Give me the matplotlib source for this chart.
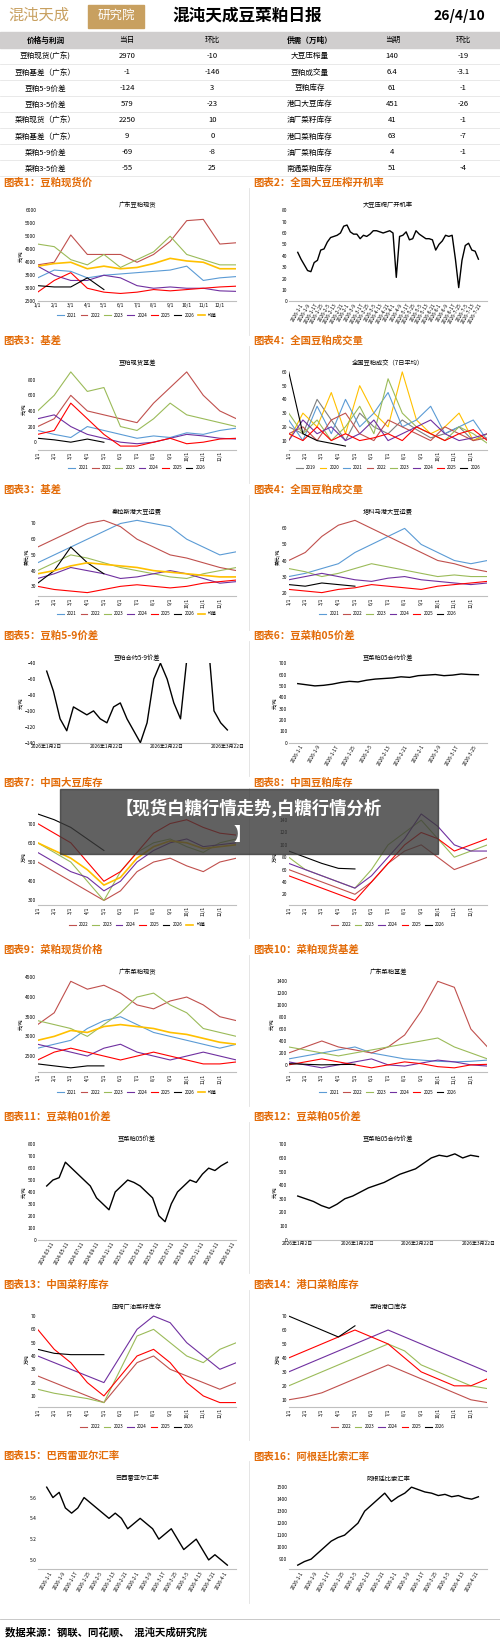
import matplotlib.pyplot as plt
import matplotlib.patches as mpatches

plt.rcParams['font.family'] = ['Noto Sans CJK SC', 'DejaVu Sans']

W, H = 500, 1641
# layout coordinates below are measured on a 478-wide copy of the reference
SW, SH = 478, 1641 * 478 / 500

# ---- table data ----
tbl_head = ['价格与利润', '当日', '环比', '供需（万吨）', '当期', '环比']
left_names = ['豆粕现货(广东)', '豆粕基差（广东）', '豆粕5-9价差', '豆粕3-5价差',
              '菜粕现货（广东）', '菜粕基差（广东）', '菜粕5-9价差', '菜粕3-5价差']
left_today = ['2970', '-1', '-124', '579', '2250', '9', '-69', '-55']
left_chg = ['-10', '-146', '3', '-23', '10', '0', '-8', '25']
right_names = ['大豆压榨量', '豆粕成交量', '豆粕库存', '港口大豆库存',
               '油厂菜籽库存', '港口菜粕库存', '油厂菜粕库存', '南通菜粕库存']
right_now = ['140', '6.4', '61', '451', '41', '63', '4', '51']
right_chg = ['-19', '-3.1', '-1', '-26', '-1', '-7', '-1', '-4']

years = ['2021', '2022', '2023', '2024', '2025', '2026', '均值']
months = ['1/1', '2/1', '3/1', '4/1', '5/1', '6/1', '7/1', '8/1', '9/1', '10/1', '11/1', '12/1']

# chart 1: 广东豆粕现货
c1_2021 = [3400, 3700, 3650, 3400, 3500, 3550, 3600, 3650, 3700, 3850, 3300, 3400, 3450]
c1_2022 = [3900, 4000, 5050, 4300, 4300, 4300, 4000, 4300, 4800, 5600, 5650, 4700, 4750]
c1_2023 = [4700, 4600, 4100, 3900, 4300, 3800, 4100, 4400, 5000, 4300, 4100, 3900, 3900]
c1_2024 = [3850, 3500, 3300, 3300, 3500, 3400, 3100, 3000, 3050, 3000, 3000, 2900, 2880]
c1_2025 = [2850, 3300, 3600, 3000, 2850, 2800, 2850, 2950, 2900, 2950, 3000, 3050, 3080]
c1_2026 = [3100, 3050, 3050, 3400, 2950]
c1_mean = [3850, 3950, 4000, 3750, 3850, 3750, 3800, 3950, 4150, 4050, 4000, 3750, 3750]

# chart 2: 大豆压榨厂开机率
c2_rate = [43, 37, 32, 27, 26, 34, 36, 45, 46, 52, 56, 57, 58, 60, 66, 67, 61, 59, 59, 55, 58, 57,
           59, 62, 62, 61, 60, 61, 62, 60, 21, 57, 58, 61, 54, 55, 62, 59, 57, 55, 55, 54, 45, 50,
           53, 58, 57, 58, 37, 12, 36, 49, 51, 45, 44, 37]

# chart 3: 豆粕现货基差
c3_2021 = [150, 100, 60, 200, 150, 100, 50, 80, 60, 120, 100, 150, 180]
c3_2022 = [200, 300, 600, 400, 350, 300, 250, 500, 700, 900, 600, 400, 300]
c3_2023 = [400, 600, 900, 650, 700, 200, 150, 300, 500, 350, 300, 250, 200]
c3_2024 = [300, 350, 200, 100, 50, 0, -20, 0, 50, 100, 80, 50, 40]
c3_2025 = [100, 150, 500, 300, 100, -50, -50, 0, 50, -20, 0, 40, 50]
c3_2026 = [50, 30, 0, 40, -1]

# chart 4: 全国豆粕成交（7日平均）
c4_2019 = [20, 15, 40, 25, 10, 30, 20, 15, 25, 18, 12, 15, 20, 10, 15]
c4_2020 = [10, 30, 20, 45, 15, 50, 30, 20, 60, 25, 15, 20, 30, 10, 15]
c4_2021 = [25, 10, 35, 15, 40, 20, 30, 45, 20, 25, 35, 15, 20, 25, 10]
c4_2022 = [15, 20, 10, 25, 30, 15, 10, 25, 20, 15, 10, 20, 15, 10, 12]
c4_2023 = [30, 15, 25, 10, 20, 35, 15, 55, 30, 20, 15, 10, 20, 15, 8]
c4_2024 = [10, 25, 15, 20, 10, 15, 25, 10, 15, 20, 25, 15, 10, 12, 15]
c4_2025 = [15, 10, 20, 10, 15, 10, 12, 15, 10, 20, 15, 10, 15, 18, 10]
c4_2026 = [60, 15, 10, 8, 6]

# chart 5: 秦拉斯港大豆运费
c5_2021 = [45, 50, 55, 60, 65, 70, 72, 70, 68, 60, 55, 50, 52]
c5_2022 = [55, 60, 65, 70, 72, 68, 60, 55, 50, 48, 45, 42, 40]
c5_2023 = [40, 45, 50, 48, 45, 42, 40, 38, 36, 35, 38, 40, 42]
c5_2024 = [35, 38, 42, 40, 38, 35, 36, 38, 40, 38, 35, 32, 33]
c5_2025 = [30, 28, 27, 26, 28, 30, 31, 30, 29, 30, 32, 33, 34]
c5_2026 = [32, 40, 55, 45, 38]
c5_mean = [38, 40, 43, 45, 44, 43, 42, 40, 39, 38, 37, 36, 36]

# chart 6: 塔科马港大豆运费
c6_2021 = [30, 32, 35, 38, 45, 50, 55, 60, 50, 45, 40, 38, 40]
c6_2022 = [40, 45, 55, 62, 65, 60, 55, 50, 45, 40, 38, 35, 33]
c6_2023 = [35, 33, 30, 32, 35, 38, 36, 34, 32, 30, 31, 30, 30]
c6_2024 = [28, 30, 32, 30, 28, 27, 29, 30, 28, 27, 26, 25, 26]
c6_2025 = [22, 21, 20, 22, 23, 25, 24, 23, 22, 24, 25, 26, 27]
c6_2026 = [25, 24, 26, 25, 24]

# chart 7: 豆粕合约5-9价差
c7_spread = [-50, -75, -110, -125, -95, -100, -105, -100, -110, -115, -95, -90, -110, -125, -140,
             -115, -60, -40, -60, -90, -110, -30, 50, 60, 0, -100, -115, -124]
c7_ticks = ['2026年1月2日', '2026年1月22日', '2026年2月22日', '2026年3月22日']

# chart 8: 豆菜粕05合约价差
c8_spread = [520, 510, 500, 505, 515, 530, 540, 535, 550, 560, 565, 570, 580, 575, 590, 595,
             600, 590, 595, 605, 600, 598]

# chart 9: 中国大豆库存 (万吨)
c9_2022 = [500, 450, 400, 350, 300, 350, 450, 500, 520, 480, 450, 500, 520]
c9_2023 = [600, 550, 500, 400, 300, 450, 550, 600, 620, 580, 550, 600, 620]
c9_2024 = [550, 500, 450, 420, 350, 400, 500, 560, 600, 620, 580, 590, 600]
c9_2025 = [700, 650, 600, 500, 400, 450, 550, 650, 700, 720, 680, 650, 640]
c9_2026 = [750, 720, 680, 620, 560]
c9_mean = [600, 560, 520, 460, 380, 420, 520, 580, 610, 600, 570, 580, 590]

# chart 10: 中国豆粕库存
c10_2022 = [60, 50, 40, 30, 20, 40, 70, 90, 100, 80, 60, 70, 80]
c10_2023 = [80, 60, 50, 40, 30, 60, 100, 120, 140, 110, 80, 90, 100]
c10_2024 = [70, 60, 50, 40, 30, 50, 80, 110, 150, 130, 100, 90, 90]
c10_2025 = [50, 40, 30, 20, 10, 40, 70, 100, 120, 110, 90, 100, 110]
c10_2026 = [90, 80, 70, 62, 61]

# chart 11: 广东菜粕现货
c11_2021 = [2700, 2800, 2900, 3200, 3400, 3500, 3300, 3100, 3000, 2900, 2800, 2700, 2800]
c11_2022 = [3300, 3600, 4400, 4200, 4300, 4100, 3800, 3700, 3900, 4000, 3800, 3500, 3400]
c11_2023 = [3400, 3300, 3200, 3000, 3300, 3600, 4000, 4100, 3800, 3600, 3200, 3100, 3000]
c11_2024 = [2800, 2700, 2600, 2500, 2700, 2800, 2600, 2500, 2400, 2500, 2600, 2500, 2400]
c11_2025 = [2400, 2600, 2700, 2600, 2500, 2400, 2500, 2600, 2500, 2400, 2300, 2300, 2350]
c11_2026 = [2300, 2250, 2200, 2250, 2250]
c11_mean = [2900, 3000, 3150, 3100, 3250, 3300, 3250, 3200, 3100, 3050, 2950, 2850, 2800]

# chart 12: 广东菜粕基差
c12_2021 = [100, 150, 200, 250, 300, 200, 150, 100, 80, 60, 50, 60, 80]
c12_2022 = [200, 300, 400, 300, 250, 200, 300, 500, 900, 1400, 1300, 600, 300]
c12_2023 = [300, 250, 200, 150, 200, 250, 300, 350, 400, 450, 300, 200, 100]
c12_2024 = [50, 0, -50, 0, 50, 100, 0, -20, 30, 80, 50, 0, -20]
c12_2025 = [0, 50, 100, 50, 0, -50, 0, 50, 20, -30, -50, 0, 9]
c12_2026 = [20, 10, 0, 5, 9]

# chart 13: 豆菜粕01价差
c13_spread = [450, 500, 520, 650, 600, 550, 500, 450, 350, 300, 250, 400, 450, 500, 480, 450,
              400, 350, 200, 150, 300, 400, 450, 500, 480, 550, 600, 580, 620, 650]
c13_ticks = ['2024-03-11', '2024-05-11', '2024-07-11', '2024-09-11', '2024-11-11', '2025-01-11',
             '2025-03-11', '2025-05-11', '2025-07-11', '2025-09-11', '2025-11-11', '2026-01-11',
             '2026-03-11']

# chart 14: 豆菜粕05合约价差
c14_spread = [320, 300, 280, 250, 230, 260, 300, 320, 350, 380, 400, 420, 450, 480, 500, 520,
              560, 600, 620, 610, 630, 600, 620, 610]

# chart 15: 压榨厂油菜籽库存
c15_2022 = [25, 20, 15, 10, 5, 20, 35, 40, 30, 25, 20, 15, 20]
c15_2023 = [15, 12, 10, 8, 5, 30, 55, 60, 50, 40, 35, 45, 50]
c15_2024 = [40, 35, 30, 25, 20, 40, 60, 70, 65, 50, 40, 30, 35]
c15_2025 = [60, 45, 35, 20, 10, 25, 40, 45, 35, 20, 10, 5, 5]
c15_2026 = [45, 42, 41, 41, 41]

# chart 16: 菜粕港口库存
c16_2022 = [10, 12, 15, 20, 25, 30, 35, 30, 25, 20, 15, 10, 8]
c16_2023 = [20, 25, 30, 35, 40, 45, 50, 45, 35, 30, 25, 20, 18]
c16_2024 = [30, 35, 40, 45, 50, 55, 60, 55, 50, 45, 40, 35, 30]
c16_2025 = [40, 45, 50, 55, 60, 55, 50, 40, 30, 25, 20, 20, 25]
c16_2026 = [70, 65, 60, 55, 63]

# chart 17: 巴西雷亚尔汇率
c17_rate = [5.7, 5.6, 5.65, 5.5, 5.45, 5.5, 5.6, 5.55, 5.5, 5.45, 5.4, 5.45, 5.4, 5.3, 5.35, 5.4,
            5.35, 5.3, 5.2, 5.25, 5.3, 5.2, 5.1, 5.15, 5.2, 5.1, 5.0, 5.05, 5.0, 4.95]

# chart 18: 阿根廷比索汇率
c18_rate = [850, 880, 900, 950, 1000, 1050, 1080, 1100, 1150, 1200, 1300, 1350, 1400, 1450, 1380,
            1420, 1450, 1500, 1480, 1460, 1450, 1430, 1440, 1420, 1430, 1410, 1400, 1420]

colors = {'2019': '#7f7f7f', '2020': '#ffc000', '2021': '#5b9bd5', '2022': '#c0504d',
          '2023': '#9bbb59', '2024': '#7030a0', '2025': '#ff0000', '2026': '#000000',
          '均值': '#ffc000'}

ORANGE = '#e36c09'


def fx(px):
    return px / SW


def fy(py):
    return 1 - py / SH


fig = plt.figure(figsize=(W / 100, H / 100), dpi=100)
fig.patch.set_facecolor('white')

# header
fig.text(fx(8), fy(15), '混沌天成', fontsize=11, color='#c8a060', va='center')
fig.patches.append(mpatches.Rectangle((fx(84), fy(27)), fx(54), 22 / SH, transform=fig.transFigure,
                                      color='#c8a060'))
fig.text(fx(111), fy(15), '研究院', fontsize=9, color='white', va='center', ha='center')
fig.text(fx(165), fy(15), '混沌天成豆菜粕日报', fontsize=12, va='center', weight='bold')
fig.text(fx(464), fy(15), '26/4/10', fontsize=10, va='center', ha='right', weight='bold')

# table
row_h = 15.3
col_x = [0, 87, 156, 250, 342, 408, 478]
t_top = 31
fig.patches.append(mpatches.Rectangle((0, fy(t_top + row_h)), fx(478), row_h / SH,
                                      transform=fig.transFigure, color='#d0cece'))
for j, h in enumerate(tbl_head):
    fig.text(fx((col_x[j] + col_x[j + 1]) / 2), fy(t_top + row_h / 2), h, fontsize=5.5,
             ha='center', va='center', weight='bold' if j in (0, 3) else 'normal')
cols = [left_names, left_today, left_chg, right_names, right_now, right_chg]
for i in range(8):
    yc = t_top + row_h * (i + 1.5)
    for j, col in enumerate(cols):
        fig.text(fx((col_x[j] + col_x[j + 1]) / 2), fy(yc), col[i], fontsize=5.5, ha='center', va='center')
    fig.lines.append(plt.Line2D([0, fx(478)], [fy(t_top + row_h * (i + 2))] * 2,
                                transform=fig.transFigure, color='#e0e0e0', lw=0.5))

# panels: (title, y_top, y_bottom)
rows = [(175, 185, 318), (326, 336, 460), (468, 478, 600), (608, 618, 740),
        (748, 758, 895), (908, 918, 1055), (1068, 1078, 1215), (1228, 1238, 1375),
        (1392, 1402, 1530)]
titles = [('图表1：豆粕现货价', '图表2：全国大豆压榨开机率'),
          ('图表3：基差', '图表4：全国豆粕成交量'),
          ('图表3：基差', '图表4：全国豆粕成交量'),
          ('图表5：豆粕5-9价差', '图表6：豆菜粕05价差'),
          ('图表7：中国大豆库存', '图表8：中国豆粕库存'),
          ('图表9：菜粕现货价格', '图表10：菜粕现货基差'),
          ('图表11：豆菜粕01价差', '图表12：豆菜粕05价差'),
          ('图表13：中国菜籽库存', '图表14：港口菜粕库存'),
          ('图表15：巴西雷亚尔汇率', '图表16：阿根廷比索汇率')]

axes = []
for (yt, y0, y1), (tl, tr) in zip(rows, titles):
    fig.text(fx(3), fy(yt), tl, fontsize=7.5, color=ORANGE, weight='bold', va='center')
    fig.text(fx(242), fy(yt), tr, fontsize=7.5, color=ORANGE, weight='bold', va='center')
    for x0 in (36, 276):
        ax = fig.add_axes([fx(x0), fy(y1 - 30), fx(190), (y1 - 30 - y0 - 16) / SH])
        axes.append(ax)
    fig.lines.append(plt.Line2D([fx(238)] * 2, [fy(y0 - 5), fy(y1 + 2)], transform=fig.transFigure,
                                color='#e0e0e0', lw=0.6))


def style(ax, title, ylabel=None):
    ax.set_title(title, fontsize=4.5, pad=2)
    for s in ('top', 'right', 'left'):
        ax.spines[s].set_visible(False)
    ax.spines['bottom'].set_color('#bfbfbf')
    ax.tick_params(labelsize=3.5, length=0, pad=1)
    if ylabel:
        ax.set_ylabel(ylabel, fontsize=3.5, labelpad=1)


def seasonal(ax, title, data, rot=90, ylabel='元/吨', lw=0.8):
    for name, vals in data:
        ax.plot(range(len(vals)), vals, color=colors[name], lw=lw * (1.5 if name == '均值' else 1), label=name)
    ax.set_xticks(range(12))
    ax.set_xticklabels(months, rotation=rot)
    ax.set_xlim(0, 12)
    style(ax, title, ylabel)
    ax.legend(ncol=8, fontsize=3.2, frameon=False, loc='upper center',
              bbox_to_anchor=(0.5, -0.08 if rot == 0 else -0.14),
              handlelength=1.5, columnspacing=0.8)


def single(ax, title, vals, ticks=None, ylim=None, ylabel=None):
    ax.plot(range(len(vals)), vals, color='black', lw=1)
    if ticks:
        pos = [i * (len(vals) - 1) / (len(ticks) - 1) for i in range(len(ticks))]
        ax.set_xticks(pos)
        ax.set_xticklabels(ticks, rotation=0 if len(ticks) < 6 else 60)
    else:
        ax.set_xticks(range(0, len(vals), 2))
        ax.set_xticklabels(['2026-%d-%d' % (1 + i // 8, 1 + (i * 4) % 28) for i in range(0, len(vals), 2)],
                           rotation=60)
    if ylim:
        ax.set_ylim(*ylim)
    style(ax, title, ylabel)


Y6 = ['2021', '2022', '2023', '2024', '2025', '2026']
seasonal(axes[0], '广东豆粕现货',
         list(zip(years, [c1_2021, c1_2022, c1_2023, c1_2024, c1_2025, c1_2026, c1_mean])), rot=0)
axes[0].set_ylim(2500, 6000)
single(axes[1], '大豆压榨厂开机率', c2_rate, ylim=(0, 80))
seasonal(axes[2], '豆粕现货基差',
         list(zip(Y6, [c3_2021, c3_2022, c3_2023, c3_2024, c3_2025, c3_2026])))
seasonal(axes[3], '全国豆粕成交（7日平均）',
         list(zip(['2019', '2020', '2021', '2022', '2023', '2024', '2025', '2026'],
                  [c4_2019, c4_2020, c4_2021, c4_2022, c4_2023, c4_2024, c4_2025, c4_2026])), ylabel=None)
for a in axes[3].lines:
    a.set_xdata([x * 12 / 14 for x in range(len(a.get_ydata()))])
seasonal(axes[4], '秦拉斯港大豆运费',
         list(zip(years, [c5_2021, c5_2022, c5_2023, c5_2024, c5_2025, c5_2026, c5_mean])), ylabel='美元/吨')
seasonal(axes[5], '塔科马港大豆运费',
         list(zip(Y6, [c6_2021, c6_2022, c6_2023, c6_2024, c6_2025, c6_2026])), ylabel='美元/吨')
single(axes[6], '豆粕合约5-9价差', c7_spread, ticks=c7_ticks, ylim=(-140, -40), ylabel='元/吨')
single(axes[7], '豆菜粕05合约价差', c8_spread, ylim=(0, 700), ylabel='元/吨')
seasonal(axes[8], '',
         list(zip(['2022', '2023', '2024', '2025', '2026', '均值'],
                  [c9_2022, c9_2023, c9_2024, c9_2025, c9_2026, c9_mean])), ylabel='万吨')
seasonal(axes[9], '',
         list(zip(['2022', '2023', '2024', '2025', '2026'],
                  [c10_2022, c10_2023, c10_2024, c10_2025, c10_2026])), ylabel='万吨')
seasonal(axes[10], '广东菜粕现货',
         list(zip(years, [c11_2021, c11_2022, c11_2023, c11_2024, c11_2025, c11_2026, c11_mean])))
seasonal(axes[11], '广东菜粕基差',
         list(zip(Y6, [c12_2021, c12_2022, c12_2023, c12_2024, c12_2025, c12_2026])))
single(axes[12], '豆菜粕05价差', c13_spread, ticks=c13_ticks, ylim=(0, 800), ylabel='元/吨')
single(axes[13], '豆菜粕05合约价差', c14_spread, ticks=c7_ticks, ylim=(0, 700), ylabel='元/吨')
seasonal(axes[14], '压榨厂油菜籽库存',
         list(zip(['2022', '2023', '2024', '2025', '2026'],
                  [c15_2022, c15_2023, c15_2024, c15_2025, c15_2026])), ylabel='万吨')
seasonal(axes[15], '菜粕港口库存',
         list(zip(['2022', '2023', '2024', '2025', '2026'],
                  [c16_2022, c16_2023, c16_2024, c16_2025, c16_2026])), ylabel='万吨')
single(axes[16], '巴西雷亚尔汇率', c17_rate)
single(axes[17], '阿根廷比索汇率', c18_rate)

# overlay banner
fig.patches.append(mpatches.Rectangle((fx(57), fy(816)), fx(362), 62 / SH, transform=fig.transFigure,
                                      color='#3a3a3a', alpha=0.8, zorder=10))
fig.text(fx(238), fy(772), '【现货白糖行情走势,白糖行情分析', fontsize=12.5, color='white',
         weight='bold', ha='center', va='center', zorder=11)
fig.text(fx(232), fy(798), '】', fontsize=12.5, color='white', weight='bold', ha='center', va='center', zorder=11)

# footer
fig.lines.append(plt.Line2D([0, 1], [fy(1548)] * 2, transform=fig.transFigure, color='#bfbfbf', lw=0.6))
fig.text(fx(5), fy(1560), '数据来源：钢联、同花顺、  混沌天成研究院', fontsize=7.5, weight='bold', va='center')

fig.savefig('out.png', dpi=100)
